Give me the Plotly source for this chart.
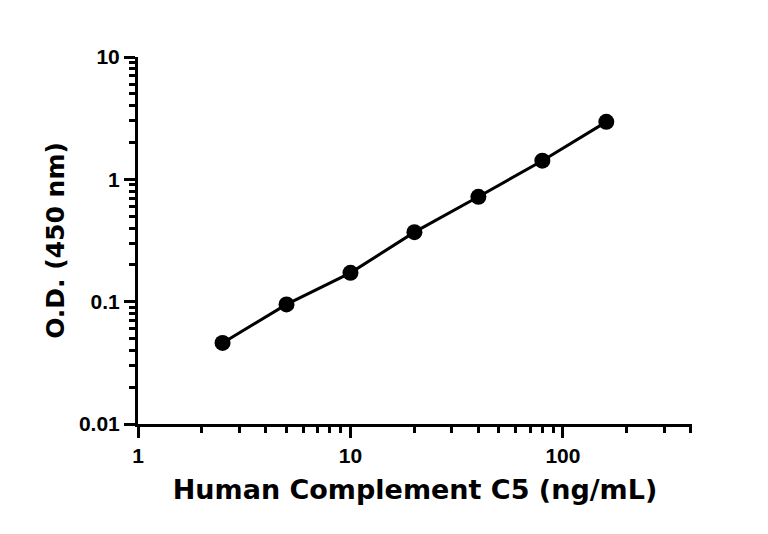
import numpy as np
import plotly.graph_objects as go

# Concentration standards and measured O.D.
conc = [2.5, 5, 10, 20, 40, 80, 160]
od = [0.046, 0.095, 0.172, 0.37, 0.72, 1.42, 2.95]

x_ticks = [1, 10, 100]
x_labels = ['1', '10', '100']
y_ticks = [0.01, 0.1, 1, 10]
y_labels = ['0.01', '0.1', '1', '10']

fig = go.Figure()
fig.add_trace(go.Scatter(
    x=conc, y=od, mode='lines+markers',
    line=dict(color='black', width=3),
    marker=dict(color='black', size=16),
    showlegend=False,
))

tick_font = dict(family='Liberation Sans', size=21, color='black', weight='bold')
fig.update_xaxes(
    type='log', range=[0, np.log10(405)],
    tickvals=x_ticks, ticktext=x_labels,
    ticks='outside', ticklen=11, tickwidth=3, tickcolor='black',
    minor=dict(ticks='outside', ticklen=6, tickwidth=3, tickcolor='black',
               dtick='D1', showgrid=False),
    showline=True, linewidth=3, linecolor='black',
    showgrid=False, zeroline=False,
    tickfont=tick_font,
    title=dict(text='<b>Human Complement C5 (ng/mL)</b>',
               font=dict(family='DejaVu Sans', size=27, color='black'), standoff=14),
)
fig.update_yaxes(
    type='log', range=[-2, 1],
    tickvals=y_ticks, ticktext=y_labels,
    ticks='outside', ticklen=11, tickwidth=3, tickcolor='black',
    minor=dict(ticks='outside', ticklen=6, tickwidth=3, tickcolor='black',
               dtick='D1', showgrid=False),
    showline=True, linewidth=3, linecolor='black',
    showgrid=False, zeroline=False,
    tickfont=tick_font,
    title=dict(text='<b>O.D. (450 nm)</b>',
               font=dict(family='DejaVu Sans', size=25, color='black'), standoff=8),
)
fig.update_layout(
    width=768, height=534,
    margin=dict(l=130, r=84, t=49, b=118),
    plot_bgcolor='white', paper_bgcolor='white',
)

fig.write_html('out.html')
